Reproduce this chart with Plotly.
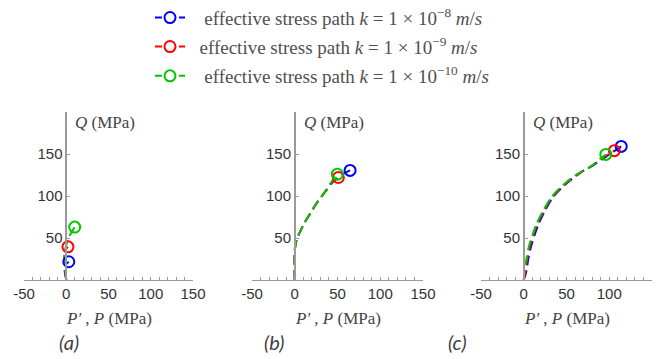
import plotly.graph_objects as go

# ---- data: effective stress paths (P', Q) in MPa for three permeabilities ----
perm_labels = ["1 × 10<sup>−8</sup>", "1 × 10<sup>−9</sup>", "1 × 10<sup>−10</sup>"]
colors = ["#0000ff", "#ff0000", "#00c800"]

# panel (a)
a_p = [
    [0, -1.5, -1.8, 0, 3],
    [0, -1, -2.5, -2, 0, 2],
    [0, -1, -2.5, -1.5, 1, 4, 10],
]
a_q = [
    [0, 8, 14, 19, 21.7],
    [0, 10, 22, 30, 37, 39.5],
    [0, 10, 24, 35, 45, 52.5, 63],
]

# panel (b)
b_p = [
    [0, 0, 2, 6, 12, 18, 24, 31, 37, 42, 48, 56, 64.7],
    [0, 0, 2, 6, 12, 18, 24, 31, 37, 43, 51],
    [0, 0, 2, 6, 12, 18, 24, 31, 37, 43, 49.8],
]
b_q = [
    [0, 35, 47, 57, 69, 79, 89, 99, 107, 114, 120, 126, 130.5],
    [0, 35, 47, 57, 69, 79, 89, 99, 107, 116, 122],
    [0, 35, 47, 57, 69, 79, 89, 99, 107, 117, 126],
]

# panel (c)
c_p = [
    [0, 2.5, 5.5, 8.5, 12.5, 17.5, 25, 34.5, 50, 66, 81, 98, 114],
    [0, 1.5, 4.3, 7, 11, 16, 24, 33.5, 49, 65, 79, 92, 106],
    [0, 0.6, 3.3, 6, 10, 15, 23, 32.6, 48, 64, 77.6, 89, 96],
]
c_q = [
    [0, 8, 26, 40, 53, 67, 83, 99, 115, 127.5, 136.5, 148, 159],
    [0, 8, 26, 40, 53, 67, 83, 99, 115, 127, 135.5, 145, 154],
    [0, 8, 26, 40, 53, 67, 83, 99, 115, 127, 134.5, 144, 149.5],
]

panels = [(a_p, a_q, "(a)"), (b_p, b_q, "(b)"), (c_p, c_q, "(c)")]

x_ticks = [-50, 0, 50, 100, 150]
x_tick_text = ["-50", "0", "50", "100", "150"]
y_ticks = [50, 100, 150]

W, H = 662, 359
x_domains = [(24 / W, 193 / W), (252 / W, 423 / W), (481 / W, 652 / W)]
y_domain = (1 - 280 / H, 1 - 112 / H)
x_range = [-50, 150]
y_range = [0, 200]

PATH_DASH = "10px,5px"
KEY_DASH = "7px,5px"
axis_grey = "#9a9a9a"
tick_font = dict(family="Liberation Sans, Arial", size=15, color="#333333")
serif = "Liberation Serif, Times New Roman, serif"
sp = "&nbsp;"

fig = go.Figure()

for i, (ps, qs, tag) in enumerate(panels):
    sfx = "" if i == 0 else str(i + 1)
    for k in range(3):
        fig.add_trace(go.Scatter(
            x=ps[k], y=qs[k], mode="lines",
            line=dict(color=colors[k], width=2, dash=PATH_DASH,
                      shape="spline", smoothing=0.8),
            xaxis="x" + sfx, yaxis="y" + sfx, showlegend=False,
            hoverinfo="skip",
        ))
    for k in range(3):
        fig.add_trace(go.Scatter(
            x=[ps[k][-1]], y=[qs[k][-1]], mode="markers",
            marker=dict(symbol="circle-open", size=11, color=colors[k],
                        line=dict(width=2, color=colors[k])),
            xaxis="x" + sfx, yaxis="y" + sfx, showlegend=False,
        ))

# legend entries: dashed line with an empty circle, one legend per row
legend_names = ["legend", "legend2", "legend3"]
lead_pad = [3, 2, 3]
for k in range(3):
    fig.add_trace(go.Scatter(
        x=[None], y=[None], mode="lines+markers",
        line=dict(color=colors[k], width=2, dash=KEY_DASH),
        marker=dict(symbol="circle", size=11, color="white",
                    line=dict(width=2, color=colors[k])),
        name=(sp * lead_pad[k]
              + f"effective stress path <i>k</i>{sp}={sp}"
              + perm_labels[k].replace(" × ", sp + "×" + sp)
              + f"{sp}<i>m</i>/<i>s</i>"),
        legend=legend_names[k], showlegend=True,
    ))

layout = dict(
    template="none",
    width=W, height=H,
    margin=dict(l=0, r=0, t=0, b=0, autoexpand=False),
    paper_bgcolor="white", plot_bgcolor="white",
)

row_y = [17.7, 46.7, 76]
for k in range(3):
    layout[legend_names[k]] = dict(
        x=150 / W, xanchor="left",
        y=1 - row_y[k] / H, yanchor="middle",
        bgcolor="rgba(0,0,0,0)", borderwidth=0,
        itemwidth=30,
        font=dict(family=serif, size=19, color="#505050"),
    )

annotations = []
for i, (ps, qs, tag) in enumerate(panels):
    sfx = "" if i == 0 else str(i + 1)
    pos = x_domains[i][0] + 0.25 * (x_domains[i][1] - x_domains[i][0])
    layout["xaxis" + sfx] = dict(
        domain=list(x_domains[i]), range=x_range, anchor="y" + sfx,
        automargin=False,
        showgrid=False, zeroline=False,
        showline=True, linecolor=axis_grey, linewidth=1,
        tickvals=x_ticks, ticktext=x_tick_text,
        ticks="inside", ticklen=3, tickcolor=axis_grey,
        minor=dict(dtick=10, ticks="inside", ticklen=3, tickcolor=axis_grey),
        tickfont=tick_font, fixedrange=True,
    )
    layout["yaxis" + sfx] = dict(
        domain=list(y_domain), range=y_range,
        anchor="free", position=pos, automargin=False,
        showgrid=False, zeroline=False,
        showline=True, linecolor=axis_grey, linewidth=1.5,
        tickvals=y_ticks, ticks="inside", ticklen=3, tickcolor=axis_grey,
        tickfont=tick_font, fixedrange=True,
    )
    # Q label next to the top of the vertical axis
    annotations.append(dict(
        x=8, y=188, xref="x" + sfx, yref="y" + sfx,
        xanchor="left", yanchor="middle", showarrow=False,
        text="<i>Q</i> (MPa)",
        font=dict(family=serif, size=17, color="#444444"),
    ))
    # horizontal axis title
    annotations.append(dict(
        x=0.5, y=1 - 318 / H, xref=("x" + sfx + " domain"), yref="paper",
        xanchor="center", yanchor="middle", showarrow=False,
        text="<i>P′</i> , <i>P</i> (MPa)",
        font=dict(family=serif, size=17, color="#444444"),
    ))

# panel tags
tag_x = [69, 274, 457]
for i, (ps, qs, tag) in enumerate(panels):
    annotations.append(dict(
        x=tag_x[i] / W, y=1 - 342 / H, xref="paper", yref="paper",
        xanchor="center", yanchor="middle", showarrow=False,
        text=f"<i>{tag}</i>",
        font=dict(family="Lato, Open Sans, sans-serif", size=20, color="#404040"),
    ))

layout["annotations"] = annotations
fig.update_layout(**layout)

fig.write_html("out.html")
